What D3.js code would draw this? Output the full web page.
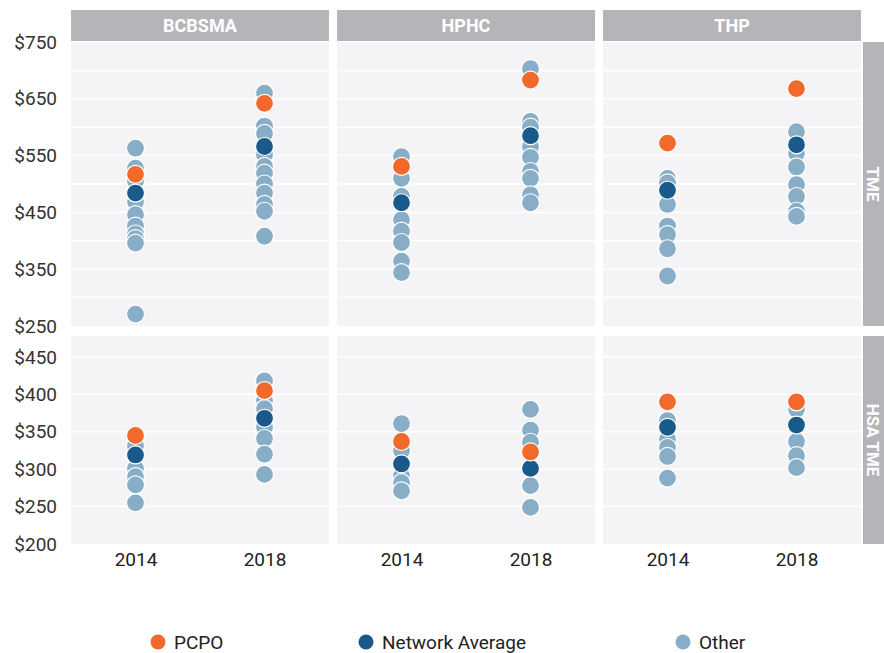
<!DOCTYPE html>
<html>
<head>
<meta charset="utf-8">
<script src="https://cdn.jsdelivr.net/npm/d3@7"></script>
<style>
  body { margin: 0; background: #fff; }
  text { font-family: "Roboto", "Liberation Sans", sans-serif; }
</style>
</head>
<body>
<div id="chart"></div>
<script>
// categories
var plans = ["BCBSMA", "HPHC", "THP"];
var years = ["2014", "2018"];
var measures = ["TME", "HSA TME"];

// values by plan, then year
var pcpoTME = [[517, 642], [531, 683], [572, 668]];
var networkTME = [[484, 566], [467, 585], [489, 569]];
var otherTME = [
  [[563, 528, 505, 469, 446, 426, 412, 404, 396, 271], [660, 602, 589, 551, 531, 519, 500, 484, 464, 452, 408]],
  [[548, 510, 478, 437, 417, 397, 364, 344], [703, 610, 600, 566, 547, 522, 510, 481, 467]],
  [[510, 502, 464, 426, 411, 386, 338], [592, 554, 530, 499, 478, 452, 443]]
];
var pcpoHSA = [[345, 405], [337, 323], [390, 390]];
var networkHSA = [[319, 368], [307, 301], [356, 359]];
var otherHSA = [
  [[331, 301, 290, 279, 255], [418, 392, 381, 356, 341, 320, 293]],
  [[361, 325, 291, 282, 271], [380, 352, 336, 278, 249]],
  [[365, 340, 329, 317, 288], [380, 337, 318, 302]]
];

// tick labels
var ticksTME = [250, 350, 450, 550, 650, 750];
var gridTME = [300, 350, 400, 450, 500, 550, 600, 650, 700];
var ticksHSA = [200, 250, 300, 350, 400, 450];
var gridHSA = [250, 300, 350, 400, 450];

var legendItems = ["PCPO", "Network Average", "Other"];
var colors = { "PCPO": "#f26a2b", "Network Average": "#1a5a8a", "Other": "#87aec6" };

var W = 884, H = 653;
var svg = d3.select("#chart").append("svg").attr("width", W).attr("height", H);

var panelW = 258, gap = 8, left = 71;
var colStart = plans.map(function(p, i) { return left + i * (panelW + gap); });

var rows = [
  { name: measures[0], top: 42, bottom: 326, domain: [250, 750], ticks: ticksTME, grid: gridTME,
    pcpo: pcpoTME, net: networkTME, other: otherTME },
  { name: measures[1], top: 336, bottom: 544, domain: [200, 478], ticks: ticksHSA, grid: gridHSA,
    pcpo: pcpoHSA, net: networkHSA, other: otherHSA }
];

var x = d3.scalePoint().domain(years).range([0, panelW]).padding(0.5);
var fmt = function(d) { return "$" + d; };

// column headers
plans.forEach(function(p, i) {
  svg.append("rect").attr("x", colStart[i]).attr("y", 10).attr("width", panelW).attr("height", 31)
    .attr("fill", "#b5b5b9");
  svg.append("text").attr("x", colStart[i] + panelW / 2).attr("y", 26).attr("dy", "0.36em")
    .attr("text-anchor", "middle").attr("fill", "#fff")
    .style("font-family", "'Liberation Sans Narrow', 'Roboto', sans-serif")
    .style("font-weight", "bold").style("font-size", "18px").text(p);
});

rows.forEach(function(r) {
  var y = d3.scaleLinear().domain(r.domain).range([r.bottom, r.top]);

  // row strip
  svg.append("rect").attr("x", 863).attr("y", r.top).attr("width", 40).attr("height", r.bottom - r.top)
    .attr("fill", "#b5b5b9");
  svg.append("text").attr("transform", "translate(873," + ((r.top + r.bottom) / 2) + ") rotate(90)")
    .attr("text-anchor", "middle").attr("dy", "0.36em").attr("fill", "#fff")
    .style("font-family", "'Liberation Sans Narrow', 'Roboto', sans-serif")
    .style("font-weight", "bold").style("font-size", "17px").text(r.name);

  // y axis labels
  var ya = svg.append("g").attr("transform", "translate(57,0)")
    .call(d3.axisLeft(y).tickValues(r.ticks).tickFormat(fmt).tickSize(0).tickPadding(0));
  ya.select(".domain").remove();
  ya.selectAll("text").style("font-size", "19px").attr("fill", "#333")
    .style("font-family", "'Roboto', sans-serif");

  plans.forEach(function(p, i) {
    var g = svg.append("g").attr("transform", "translate(" + colStart[i] + ",0)");
    g.append("rect").attr("x", 0).attr("y", r.top).attr("width", panelW).attr("height", r.bottom - r.top)
      .attr("fill", "#f4f4f6");
    g.selectAll(".grid").data(r.grid).enter().append("line")
      .attr("x1", 0).attr("x2", panelW)
      .attr("y1", function(d) { return y(d); }).attr("y2", function(d) { return y(d); })
      .attr("stroke", "#fff").attr("stroke-width", 1.5);

    var pts = [];
    years.forEach(function(yr, j) {
      r.other[i][j].forEach(function(v) { pts.push({ year: yr, value: v, type: "Other" }); });
    });
    years.forEach(function(yr, j) { pts.push({ year: yr, value: r.net[i][j], type: "Network Average" }); });
    years.forEach(function(yr, j) { pts.push({ year: yr, value: r.pcpo[i][j], type: "PCPO" }); });

    g.selectAll("circle").data(pts).enter().append("circle")
      .attr("cx", function(d) { return x(d.year); })
      .attr("cy", function(d) { return y(d.value); })
      .attr("r", 9)
      .attr("fill", function(d) { return colors[d.type]; })
      .attr("stroke", "#fff").attr("stroke-width", 1.2);
  });
});

// x axis labels under bottom row
plans.forEach(function(p, i) {
  var xa = svg.append("g").attr("transform", "translate(" + colStart[i] + ",552)")
    .call(d3.axisBottom(x).tickSize(0).tickPadding(0));
  xa.select(".domain").remove();
  xa.selectAll("text").style("font-size", "19px").attr("fill", "#222")
    .style("font-family", "'Roboto', sans-serif");
});

// legend
var legX = [158, 366, 683];
legendItems.forEach(function(k, i) {
  svg.append("circle").attr("cx", legX[i]).attr("cy", 642).attr("r", 7.5).attr("fill", colors[k]);
  svg.append("text").attr("x", legX[i] + 16).attr("y", 642).attr("dy", "0.36em")
    .style("font-size", "19px").attr("fill", "#222").text(k);
});
</script>
</body>
</html>
